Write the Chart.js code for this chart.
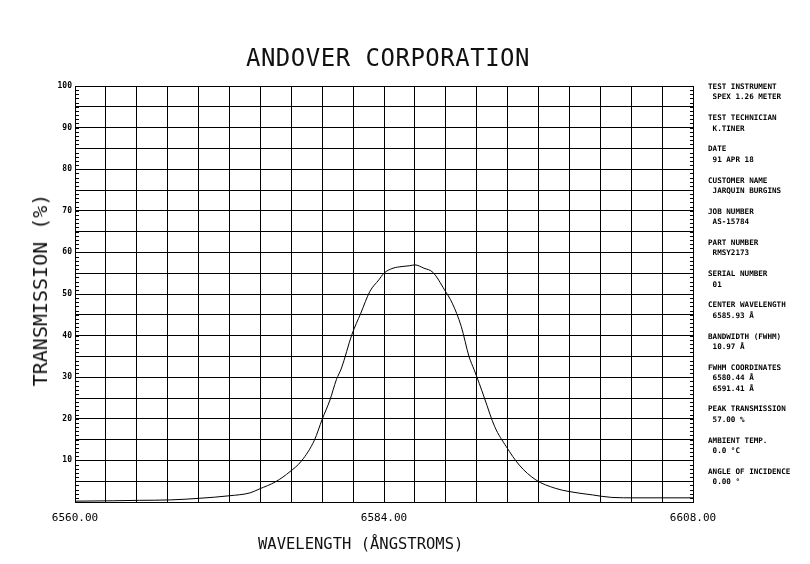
<!DOCTYPE html>
<html>
<head>
<meta charset="utf-8">
<script src="https://cdn.jsdelivr.net/npm/chart.js@4"></script>
<style>
  html, body { margin: 0; padding: 0; background: #fff; }
  #wrap { position: relative; width: 810px; height: 564px; overflow: hidden; background: #fff; }
  #c { position: absolute; left: 0; top: 0; }
  .t { position: absolute; font-family: "DejaVu Sans Mono", "Liberation Mono", monospace; color: #111; white-space: pre; }
  #title { left: 0; width: 776px; top: 44px; text-align: center; font-size: 24px; letter-spacing: 0.5px; }
  #xtitle { left: 258px; top: 535px; font-size: 15.5px; }
  #ytitle { left: 40px; top: 290px; font-size: 20px; transform: translate(-50%, -50%) rotate(-90deg); }
  #panel { position: absolute; left: 708px; top: 82px; font-family: "DejaVu Sans Mono", "Liberation Mono", monospace; font-size: 7.6px; font-weight: bold; color: #000; line-height: 10.4px; }
  #panel div { white-space: pre; }
  #panel .g { height: 10.4px; }
</style>
</head>
<body>
<div id="wrap">
  <canvas id="c" width="810" height="564"></canvas>
  <div class="t" id="title">ANDOVER CORPORATION</div>
  <div class="t" id="xtitle">WAVELENGTH (ÅNGSTROMS)</div>
  <div class="t" id="ytitle">TRANSMISSION (%)</div>
  <div id="panel"></div>
</div>
<script>
// ---- data ----
const wavelength = [6560.0, 6563.0, 6565.0, 6567.4, 6569.7, 6572.0, 6573.6, 6574.3, 6575.6, 6576.7,
  6577.6, 6578.6, 6579.2, 6579.8, 6580.3, 6580.7, 6581.5, 6582.2, 6582.9, 6583.6,
  6584.0, 6584.7, 6585.4, 6586.0, 6586.4, 6587.1, 6587.8, 6588.7, 6589.3, 6590.0,
  6590.6, 6591.0, 6591.4, 6591.8, 6592.6, 6593.5, 6594.5, 6595.8, 6597.3, 6598.4,
  6600.2, 6601.7, 6603.5, 6605.6, 6608.0];
const transmission = [0.2, 0.3, 0.4, 0.5, 0.9, 1.5, 2.2, 3.1, 4.9, 7.3,
  9.9, 14.9, 19.9, 24.5, 29.4, 32.2, 40.2, 45.4, 50.6, 53.4,
  55.0, 56.2, 56.6, 56.8, 57.0, 56.2, 55.2, 51.0, 47.8, 42.2,
  35.0, 31.8, 28.5, 25.0, 18.1, 13.3, 8.9, 5.3, 3.3, 2.5,
  1.7, 1.1, 1.0, 1.0, 1.0];
const xTickValues = [6560, 6584, 6608];
const xTickLabels = ['6560.00', '6584.00', '6608.00'];
const yTickValues = [10, 20, 30, 40, 50, 60, 70, 80, 90, 100];
const yTickLabels = ['10', '20', '30', '40', '50', '60', '70', '80', '90', '100'];
const infoLabels = ['TEST INSTRUMENT', 'TEST TECHNICIAN', 'DATE', 'CUSTOMER NAME', 'JOB NUMBER',
  'PART NUMBER', 'SERIAL NUMBER', 'CENTER WAVELENGTH', 'BANDWIDTH (FWHM)', 'FWHM COORDINATES',
  'PEAK TRANSMISSION', 'AMBIENT TEMP.', 'ANGLE OF INCIDENCE'];
const infoValues = [['SPEX 1.26 METER'], ['K.TINER'], ['91 APR 18'], ['JARQUIN BURGINS'], ['AS-15784'],
  ['RMSY2173'], ['01'], ['6585.93 Å'], ['10.97 Å'], ['6580.44 Å', '6591.41 Å'],
  ['57.00 %'], ['0.0 °C'], ['0.00 °']];

// ---- side panel ----
const panel = document.getElementById('panel');
infoLabels.forEach((lab, i) => {
  const h = document.createElement('div'); h.textContent = lab; panel.appendChild(h);
  infoValues[i].forEach(v => { const d = document.createElement('div'); d.textContent = ' ' + v; panel.appendChild(d); });
  const g = document.createElement('div'); g.className = 'g'; panel.appendChild(g);
});

const points = wavelength.map((w, i) => ({ x: w, y: transmission[i] }));

const minorTicks = {
  id: 'minorTicks',
  afterDatasetsDraw(chart) {
    const { ctx, chartArea } = chart;
    const y = chart.scales.y;
    ctx.save();
    ctx.strokeStyle = '#000';
    ctx.lineWidth = 1;
    ctx.beginPath();
    for (let v = 0; v <= 100; v++) {
      const py = Math.round(y.getPixelForValue(v)) + 0.5;
      ctx.moveTo(chartArea.left, py); ctx.lineTo(chartArea.left + 4, py);
      ctx.moveTo(chartArea.right - 3, py); ctx.lineTo(chartArea.right, py);
    }
    ctx.stroke();
    ctx.restore();
  }
};

new Chart(document.getElementById('c'), {
  type: 'line',
  data: {
    datasets: [{
      data: points,
      borderColor: '#000',
      borderWidth: 1,
      pointRadius: 0,
      fill: false,
      cubicInterpolationMode: 'monotone'
    }]
  },
  options: {
    responsive: false,
    animation: false,
    layout: { padding: { left: 38, right: 117, top: 86, bottom: 32 } },
    plugins: { legend: { display: false }, tooltip: { enabled: false }, title: { display: false } },
    scales: {
      x: {
        type: 'linear',
        min: 6560, max: 6608,
        afterBuildTicks(scale) {
          const t = [];
          for (let i = 0; i <= 20; i++) t.push({ value: 6560 + i * 2.4 });
          scale.ticks = t;
        },
        afterFit(scale) { scale.height = 30; },
        grid: { color: '#000', lineWidth: 1, drawTicks: false },
        border: { color: '#000', width: 1 },
        ticks: {
          padding: 10,
          maxRotation: 0,
          autoSkip: false,
          color: '#000',
          font: { family: 'DejaVu Sans Mono', size: 11 },
          callback(v) {
            const k = xTickValues.findIndex(t => Math.abs(t - v) < 1e-6);
            return k >= 0 ? xTickLabels[k] : '';
          }
        }
      },
      y: {
        min: 0, max: 100,
        afterFit(scale) { scale.width = 37; },
        grid: { color: '#000', lineWidth: 1, drawTicks: false },
        border: { color: '#000', width: 1 },
        ticks: {
          stepSize: 5,
          padding: 3,
          color: '#000',
          font: { family: 'DejaVu Sans Mono', size: 8, weight: 'bold' },
          callback(v) {
            const k = yTickValues.indexOf(v);
            return k >= 0 ? yTickLabels[k] : '';
          }
        }
      }
    }
  },
  plugins: [minorTicks]
});
</script>
</body>
</html>
